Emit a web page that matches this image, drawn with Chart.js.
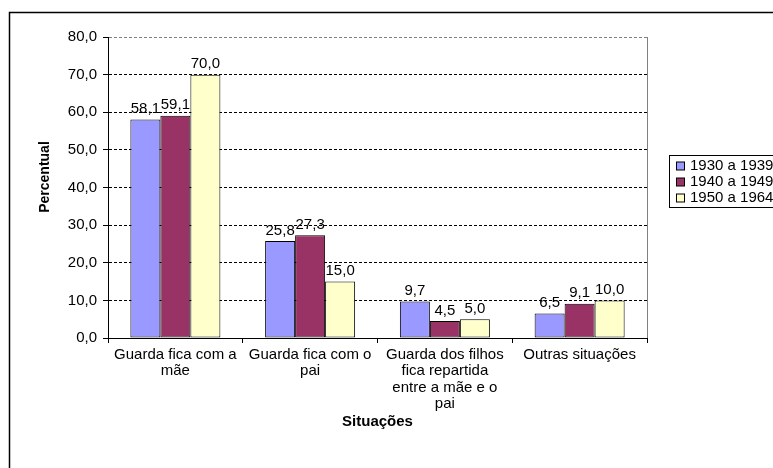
<!DOCTYPE html>
<html>
<head>
<meta charset="utf-8">
<script src="https://cdn.jsdelivr.net/npm/chart.js@4/dist/chart.umd.min.js"></script>
<style>
  html, body { margin: 0; padding: 0; background: #fff; }
  #wrap { width: 773px; height: 468px; }
</style>
</head>
<body>
<div id="wrap"><canvas id="c" width="773" height="468"></canvas></div>
<script>
// Situações de guarda dos filhos, por período
const categories = [
  ["Guarda fica com a", "mãe"],
  ["Guarda fica com o", "pai"],
  ["Guarda dos filhos", "fica repartida", "entre a mãe e o", "pai"],
  ["Outras situações"]
];
const seriesNames = ["1930 a 1939", "1940 a 1949", "1950 a 1964"];
const values1930 = [58.1, 25.8, 9.7, 6.5];
const values1940 = [59.1, 27.3, 4.5, 9.1];
const values1950 = [70.0, 15.0, 5.0, 10.0];
const yTicks = [0, 10, 20, 30, 40, 50, 60, 70, 80];

const FONT = "'Liberation Sans', Arial, sans-serif";
const fmt = v => v.toFixed(1).replace('.', ',');

// outer frame, plot border, value labels, y title and legend box
const decor = {
  id: 'decor',
  beforeDraw(chart) {
    const ctx = chart.ctx;
    ctx.save();
    ctx.fillStyle = '#fff';
    ctx.fillRect(0, 0, chart.width, chart.height);
    ctx.strokeStyle = '#000';
    ctx.lineWidth = 1.5;
    ctx.beginPath();
    ctx.moveTo(9.5, chart.height + 2);
    ctx.lineTo(9.5, 12.5);
    ctx.lineTo(chart.width + 2, 12.5);
    ctx.stroke();
    ctx.restore();
  },
  beforeDatasetsDraw(chart) {
    const a = chart.chartArea, ctx = chart.ctx;
    ctx.save();
    ctx.strokeStyle = '#808080';
    ctx.lineWidth = 1;
    ctx.beginPath();
    ctx.moveTo(a.right + 0.5, a.top);
    ctx.lineTo(a.right + 0.5, a.bottom);
    ctx.stroke();
    ctx.restore();
  },
  afterDatasetsDraw(chart) {
    const ctx = chart.ctx;
    ctx.save();
    ctx.font = '15px ' + FONT;
    ctx.fillStyle = '#000';
    ctx.textAlign = 'center';
    ctx.textBaseline = 'bottom';
    chart.data.datasets.forEach((ds, i) => {
      chart.getDatasetMeta(i).data.forEach((bar, j) => {
        ctx.fillText(fmt(ds.data[j]), bar.x, bar.y - 3);
      });
    });
    ctx.restore();
  },
  afterDraw(chart) {
    const ctx = chart.ctx;
    // y axis title
    ctx.save();
    ctx.translate(45, 177);
    ctx.rotate(-Math.PI / 2);
    ctx.font = 'bold 14px ' + FONT;
    ctx.fillStyle = '#000';
    ctx.textAlign = 'center';
    ctx.textBaseline = 'middle';
    ctx.fillText('Percentual', 0, 0);
    ctx.restore();

    // legend
    const bx = 669.5, by = 155.5, step = 16;
    const n = chart.data.datasets.length;
    ctx.save();
    ctx.fillStyle = '#fff';
    ctx.fillRect(bx, by, 200, n * step + 4);
    ctx.strokeStyle = '#000';
    ctx.lineWidth = 1;
    ctx.strokeRect(bx, by, 200, n * step + 4);
    ctx.font = '15px ' + FONT;
    ctx.textBaseline = 'middle';
    chart.data.datasets.forEach((ds, i) => {
      const cy = by + 10.5 + i * step;
      ctx.fillStyle = ds.backgroundColor;
      ctx.fillRect(676.5, cy - 4, 8, 8);
      ctx.strokeStyle = '#000';
      ctx.strokeRect(676.5, cy - 4, 8, 8);
      ctx.fillStyle = '#000';
      ctx.fillText(ds.label, 690, cy);
    });
    ctx.restore();
  }
};

const mkSet = (label, data, color) => ({
  label, data,
  backgroundColor: color,
  borderColor: '#000',
  borderWidth: 1,
  borderSkipped: false,
  categoryPercentage: 0.668,
  barPercentage: 1.0
});

new Chart(document.getElementById('c'), {
  type: 'bar',
  data: {
    labels: categories,
    datasets: [
      mkSet(seriesNames[0], values1930, '#9999FF'),
      mkSet(seriesNames[1], values1940, '#993366'),
      mkSet(seriesNames[2], values1950, '#FFFFCC')
    ]
  },
  options: {
    responsive: false,
    animation: false,
    devicePixelRatio: 1,
    layout: { padding: { left: 0, top: 37, right: 126, bottom: 0 } },
    plugins: { legend: { display: false }, tooltip: { enabled: false } },
    scales: {
      x: {
        afterFit(s) { s.height = 130; },
        grid: { drawOnChartArea: false, drawTicks: true, tickLength: 5, color: '#000', offset: true },
        border: { color: '#000', width: 1 },
        ticks: {
          autoSkip: false, maxRotation: 0, minRotation: 0, padding: 4,
          color: '#000', font: { family: FONT, size: 15, lineHeight: '16.2px' }
        },
        title: {
          display: true, text: 'Situações', color: '#000',
          font: { family: FONT, size: 15, weight: 'bold' },
          padding: { top: 0, bottom: 37 }
        }
      },
      y: {
        min: 0, max: 80,
        afterFit(s) { s.width = 108; },
        afterBuildTicks(s) { s.ticks = yTicks.map(v => ({ value: v })); },
        grid: {
          color: c => (c.tick && c.tick.value === 80) ? '#808080' : '#000',
          tickColor: '#000', tickLength: 5, lineWidth: 1
        },
        border: { color: '#000', width: 1, dash: [3, 2] },
        ticks: {
          padding: 6, color: '#000',
          font: { family: FONT, size: 15 },
          callback: v => fmt(v)
        }
      }
    }
  },
  plugins: [decor]
});
</script>
</body>
</html>
